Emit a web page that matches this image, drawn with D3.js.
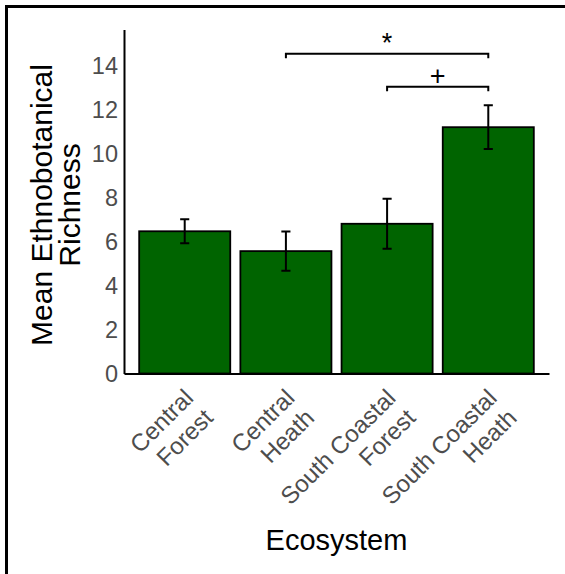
<!DOCTYPE html>
<html>
<head>
<meta charset="utf-8">
<script src="https://cdn.jsdelivr.net/npm/d3@7"></script>
<style>
  body { margin: 0; background: #fff; }
  svg { display: block; font-family: "Liberation Sans", Arial, sans-serif; }
</style>
</head>
<body>
<div id="chart"></div>
<script>
// data
var categories = ["Central Forest", "Central Heath", "South Coastal Forest", "South Coastal Heath"];
var tickLines = [["Central", "Forest"], ["Central", "Heath"], ["South Coastal", "Forest"], ["South Coastal", "Heath"]];
var means = [6.45, 5.55, 6.79, 11.17];
var se = [0.54, 0.89, 1.13, 0.99];
var yTicks = [0, 2, 4, 6, 8, 10, 12, 14];
var sigFrom = ["Central Heath", "South Coastal Forest"];
var sigTo = ["South Coastal Heath", "South Coastal Heath"];
var sigY = [14.5, 13];
var sigLabel = ["*", "+"];

var W = 565, H = 574;
var margin = {top: 29.5, right: 16, bottom: 200.5, left: 124};

var svg = d3.select("#chart").append("svg")
  .attr("width", W)
  .attr("height", H);

// outer frame, only top and left edges fall inside the picture
svg.append("rect")
  .attr("x", 6.5).attr("y", 6.5)
  .attr("width", 700).attr("height", 700)
  .attr("fill", "none").attr("stroke", "#000").attr("stroke-width", 3);

var x = d3.scaleBand()
  .domain(categories)
  .range([margin.left, W - margin.right])
  .paddingInner(0.1)
  .paddingOuter(0.15);

var y = d3.scaleLinear()
  .domain([0, 15.6])
  .range([H - margin.bottom, margin.top]);

var y0 = y(0);

// bars
svg.append("g").selectAll("rect")
  .data(categories)
  .join("rect")
  .attr("x", d => x(d))
  .attr("width", x.bandwidth())
  .attr("y", (d, i) => y(means[i]))
  .attr("height", (d, i) => y0 - y(means[i]))
  .attr("fill", "#006400")
  .attr("stroke", "#000")
  .attr("stroke-width", 1.8);

// error bars
var capW = x.step() * 0.09;
var eb = svg.append("g").attr("stroke", "#000").attr("stroke-width", 2).attr("fill", "none");
categories.forEach(function(c, i) {
  var cx = x(c) + x.bandwidth() / 2;
  var hi = y(means[i] + se[i]), lo = y(means[i] - se[i]);
  eb.append("path").attr("d",
    "M" + cx + "," + hi + "V" + lo +
    "M" + (cx - capW / 2) + "," + hi + "H" + (cx + capW / 2) +
    "M" + (cx - capW / 2) + "," + lo + "H" + (cx + capW / 2));
});

// axes
var yAxis = svg.append("g")
  .attr("transform", "translate(" + margin.left + ",0)")
  .call(d3.axisLeft(y).tickValues(yTicks).tickSize(0).tickSizeOuter(0).tickPadding(6));
yAxis.select(".domain").attr("stroke", "#000").attr("stroke-width", 2);
yAxis.selectAll("text")
  .attr("fill", "#4d4d4d")
  .attr("font-size", 23.5)
  .attr("font-family", "Liberation Sans, Arial, sans-serif")
  .attr("dy", "0.36em");

var xAxis = svg.append("g")
  .attr("transform", "translate(0," + y0 + ")")
  .call(d3.axisBottom(x).tickSize(0).tickSizeOuter(0));
xAxis.select(".domain").attr("stroke", "#000").attr("stroke-width", 2);
xAxis.selectAll(".tick text").remove();
xAxis.selectAll(".tick").each(function(d, i) {
  var t = d3.select(this).append("text")
    .attr("transform", "translate(10,26) rotate(-45)")
    .attr("text-anchor", "end")
    .attr("fill", "#4d4d4d")
    .attr("font-size", 24)
    .attr("font-family", "Liberation Sans, Arial, sans-serif");
  tickLines[i].forEach(function(line, j) {
    t.append("tspan").attr("x", 0).attr("dy", j === 0 ? 0 : 28).text(line);
  });
});

// significance brackets
var tick = y(0) - y(0.2);
sigFrom.forEach(function(f, i) {
  var x1 = x(f) + x.bandwidth() / 2;
  var x2 = x(sigTo[i]) + x.bandwidth() / 2;
  var yy = y(sigY[i]);
  svg.append("path")
    .attr("d", "M" + x1 + "," + (yy + tick) + "V" + yy + "H" + x2 + "V" + (yy + tick))
    .attr("fill", "none").attr("stroke", "#000").attr("stroke-width", 2);
  svg.append("text")
    .attr("x", (x1 + x2) / 2)
    .attr("y", yy - 2)
    .attr("text-anchor", "middle")
    .attr("font-size", 27)
    .attr("fill", "#000")
    .text(sigLabel[i]);
});

// axis titles
svg.append("text")
  .attr("x", (margin.left + W - margin.right) / 2)
  .attr("y", 550)
  .attr("text-anchor", "middle")
  .attr("font-size", 29)
  .attr("fill", "#000")
  .text("Ecosystem");

var yt = svg.append("text")
  .attr("transform", "translate(52,205) rotate(-90)")
  .attr("text-anchor", "middle")
  .attr("font-size", 30)
  .attr("fill", "#000");
yt.append("tspan").attr("x", 0).attr("dy", 0).text("Mean Ethnobotanical");
yt.append("tspan").attr("x", 0).attr("dy", 28).text("Richness");
</script>
</body>
</html>
